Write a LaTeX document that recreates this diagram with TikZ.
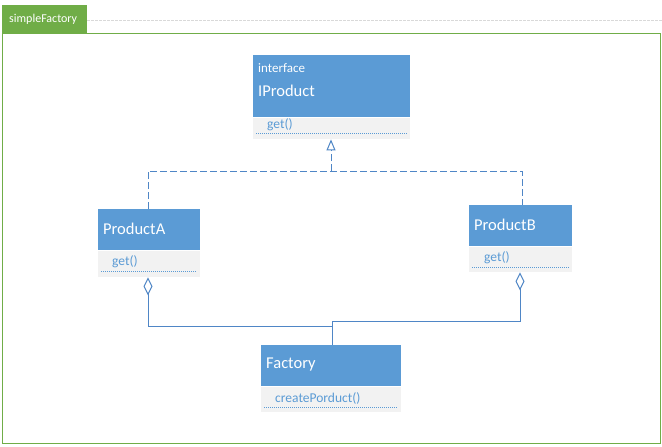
\documentclass[tikz,border=0pt]{standalone}
\usepackage{fontspec}
\setmainfont{Carlito}
\usetikzlibrary{arrows.meta}
\definecolor{hdr}{HTML}{5B9BD5}
\definecolor{body}{HTML}{F2F2F2}
\definecolor{grn}{HTML}{70AD47}
\definecolor{lnk}{HTML}{4F86C6}
\definecolor{dgray}{HTML}{D9D9D9}
\begin{document}
\begin{tikzpicture}[x=1pt,y=-1pt,
  hdrbox/.style={fill=hdr,draw=none,anchor=north west,inner sep=0pt},
  bodybox/.style={fill=body,draw=none,anchor=north west,inner sep=0pt},
  ttl/.style={text=white,anchor=west,inner sep=0pt,font=\fontsize{16.5}{18}\selectfont},
  meth/.style={text=hdr,anchor=west,inner sep=0pt,font=\fontsize{13.5}{15}\selectfont},
  dotl/.style={draw=hdr,line width=0.9pt,dash pattern=on 1pt off 1pt},
  conn/.style={draw=lnk,line width=0.9pt},
  realize/.style={conn,dash pattern=on 7pt off 3pt},
]
\useasboundingbox (0,0) rectangle (662,447);
\fill[white] (0,0) rectangle (662,447);
% package frame
\draw[dgray,dash pattern=on 3pt off 1pt,line width=0.8pt] (87,20) -- (662,20);
\node[fill=grn,anchor=north west,inner sep=0pt,minimum width=85pt,minimum height=28pt] (tab) at (2,5) {};
\node[text=white,anchor=west,inner sep=0pt,font=\fontsize{12}{14}\selectfont] (tabt) at (9,19) {simpleFactory};
\node[draw=grn,line width=1pt,anchor=north west,inner sep=0pt,minimum width=658pt,minimum height=410pt] (frame) at (2,33) {};

% IProduct
\node[hdrbox,minimum width=157pt,minimum height=62pt] (iph) at (253,55) {};
\node[bodybox,minimum width=157pt,minimum height=21pt] (ipb) at (253,118) {};
\node[text=white,anchor=west,inner sep=0pt,font=\fontsize{13}{15}\selectfont] (ipi) at (258,68) {interface};
\node[ttl] (ipt) at (258,91) {IProduct};
\node[meth] (ipm) at (267,125) {get()};
\draw[dotl] (256,133.5) -- (407,133.5);

% ProductA
\node[hdrbox,minimum width=102pt,minimum height=41pt] (pah) at (98,209) {};
\node[bodybox,minimum width=102pt,minimum height=26pt] (pab) at (98,251) {};
\node[ttl] (pat) at (103,229) {ProductA};
\node[meth] (pam) at (112,262) {get()};
\draw[dotl] (101,271.5) -- (197,271.5);

% ProductB
\node[hdrbox,minimum width=103pt,minimum height=41pt] (pbh) at (469,205) {};
\node[bodybox,minimum width=103pt,minimum height=25pt] (pbb) at (469,247) {};
\node[ttl] (pbt) at (474,225) {ProductB};
\node[meth] (pbm) at (484,258) {get()};
\draw[dotl] (472,267.5) -- (569,267.5);

% Factory
\node[hdrbox,minimum width=140pt,minimum height=41pt] (fh) at (261,345) {};
\node[bodybox,minimum width=140pt,minimum height=25pt] (fb) at (261,387) {};
\node[ttl] (ft) at (266,365) {Factory};
\node[meth] (fm) at (275,398) {createPorduct()};
\draw[dotl] (264,407.5) -- (398,407.5);

% realizations
\coordinate (ja) at (148,171);
\coordinate (jb) at (522,171);
\coordinate (jm) at (331,171);
\draw[realize] (pah.north -| ja) -- (ja) -- (jb) -- (pbh.north -| jb);
\draw[realize,-{Triangle[open,length=11pt,width=9pt,line width=1pt]}] (jm) -- (jm |- ipb.south);

% aggregations
\coordinate (aa) at (148,326);
\coordinate (ab) at (520,321);
\coordinate (fa) at (332,326);
\coordinate (fbp) at (332,321);
\draw[conn,{Diamond[open,length=18pt,width=9pt,line width=1pt]}-] (aa |- pab.south) -- (aa) -- (fa) -- (fa |- fh.north);
\draw[conn,{Diamond[open,length=18pt,width=9pt,line width=1pt]}-] (ab |- pbb.south) -- (ab) -- (fbp) -- (fbp |- fh.north);
\end{tikzpicture}
\end{document}
